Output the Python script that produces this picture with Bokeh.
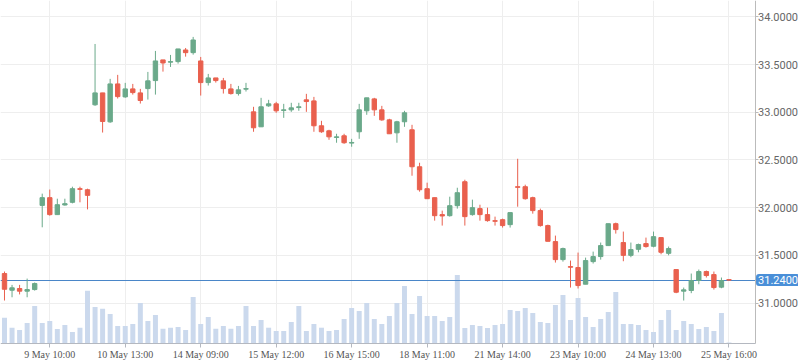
from bokeh.plotting import figure
from bokeh.models import Range1d, FixedTicker, NumeralTickFormatter
from bokeh.embed import file_html
from bokeh.resources import INLINE
from bokeh.core.properties import value

opens = [31.309, 31.134, 31.152, 31.124, 31.141, 32.024, 32.105, 31.927, 32.028, 32.056,
         32.199, 32.188, 33.079, 33.204, 32.900, 33.298, 33.162, 33.246, 33.204, 33.249,
         33.333, 33.550, 33.526, 33.532, 33.654, 33.626, 33.539, 33.312, 33.361, 33.330,
         33.246, 33.197, 33.243, 33.005, 32.848, 33.068, 33.089, 33.020, 33.026, 33.050,
         33.131, 33.120, 32.859, 32.806, 32.736, 32.754, 32.677, 32.796, 33.016, 33.141,
         33.026, 32.921, 32.785, 32.901, 32.817, 32.429, 32.199, 32.105, 31.927, 31.916,
         32.021, 32.272, 31.927, 31.990, 31.927, 31.864, 31.874, 31.822, 32.220, 32.220,
         32.105, 31.969, 31.812, 31.644, 31.455, 31.382, 31.372, 31.197, 31.434, 31.487,
         31.602, 31.832, 31.634, 31.500, 31.563, 31.623, 31.595, 31.686, 31.521, 31.351,
         31.124, 31.131, 31.236, 31.330, 31.298, 31.166, 31.245]
highs = [31.330, 31.190, 31.190, 31.256, 31.215, 32.147, 32.190, 32.094, 32.094, 32.220,
         32.220, 32.199, 33.717, 33.204, 33.351, 33.393, 33.309, 33.298, 33.246, 33.424,
         33.644, 33.550, 33.602, 33.665, 33.675, 33.791, 33.581, 33.403, 33.361, 33.361,
         33.298, 33.277, 33.309, 33.058, 33.152, 33.131, 33.110, 33.089, 33.100, 33.100,
         33.194, 33.162, 32.911, 32.817, 32.775, 32.775, 32.722, 33.089, 33.152, 33.152,
         33.068, 32.932, 32.911, 33.016, 32.869, 32.471, 32.262, 32.105, 31.969, 32.115,
         32.209, 32.293, 32.084, 32.031, 32.000, 31.906, 31.885, 31.948, 32.513, 32.241,
         32.115, 31.990, 31.822, 31.707, 31.581, 31.445, 31.529, 31.476, 31.539, 31.634,
         31.832, 31.843, 31.749, 31.634, 31.623, 31.686, 31.749, 31.686, 31.592, 31.351,
         31.162, 31.309, 31.351, 31.340, 31.330, 31.267, 31.245]
lows = [31.026, 31.060, 31.090, 31.060, 31.130, 31.794, 31.916, 31.927, 32.021, 32.045,
        32.056, 31.982, 33.068, 32.788, 32.890, 33.145, 33.152, 33.186, 33.092, 33.134,
        33.186, 33.427, 33.476, 33.511, 33.584, 33.605, 33.176, 33.281, 33.312, 33.197,
        33.186, 33.176, 33.218, 32.796, 32.848, 33.058, 32.995, 32.942, 33.005, 33.016,
        33.005, 32.796, 32.785, 32.712, 32.681, 32.670, 32.639, 32.722, 32.974, 32.963,
        32.911, 32.775, 32.681, 32.848, 32.335, 32.168, 32.094, 31.864, 31.812, 31.906,
        31.990, 31.812, 31.916, 31.864, 31.853, 31.812, 31.791, 31.791, 32.010, 32.084,
        31.937, 31.801, 31.647, 31.424, 31.434, 31.162, 31.152, 31.197, 31.414, 31.455,
        31.602, 31.728, 31.438, 31.480, 31.532, 31.581, 31.584, 31.511, 31.500, 31.103,
        31.026, 31.103, 31.197, 31.267, 31.141, 31.155, 31.240]
closes = [31.144, 31.159, 31.124, 31.141, 31.204, 32.105, 31.927, 32.031, 32.042, 32.199,
          32.192, 32.129, 33.204, 32.904, 33.298, 33.165, 33.246, 33.207, 33.124, 33.330,
          33.539, 33.518, 33.532, 33.665, 33.626, 33.759, 33.312, 33.361, 33.333, 33.249,
          33.197, 33.236, 33.249, 32.838, 33.058, 33.089, 33.016, 33.026, 33.047, 33.058,
          33.113, 32.859, 32.796, 32.743, 32.743, 32.681, 32.684, 33.026, 33.152, 33.026,
          32.921, 32.775, 32.901, 32.995, 32.429, 32.188, 32.094, 31.916, 31.913, 32.021,
          32.157, 31.906, 32.000, 31.927, 31.864, 31.857, 31.812, 31.948, 32.213, 32.094,
          31.969, 31.812, 31.647, 31.455, 31.571, 31.375, 31.183, 31.445, 31.487, 31.602,
          31.832, 31.770, 31.500, 31.560, 31.613, 31.592, 31.696, 31.532, 31.571, 31.113,
          31.138, 31.236, 31.330, 31.288, 31.162, 31.236, 31.240]
volumes = [253, 153, 130, 200, 370, 200, 220, 140, 180, 110,
           153, 523, 360, 343, 290, 170, 170, 190, 400, 220,
           280, 143, 153, 160, 130, 460, 190, 260, 143, 170,
           143, 170, 370, 170, 230, 153, 120, 120, 210, 370,
           120, 190, 153, 120, 130, 240, 350, 320, 400, 240,
           190, 270, 400, 570, 290, 470, 270, 270, 220, 260,
           680, 150, 180, 170, 150, 180, 190, 330, 320, 350,
           300, 210, 200, 380, 480, 230, 450, 260, 160, 240,
           310, 510, 190, 190, 180, 130, 110, 230, 330, 130,
           220, 190, 140, 160, 120, 300, 5]
tick_idx = [6, 16, 26, 36, 46, 56, 66, 76, 86, 96]
tick_labels = ["9 May 10:00", "10 May 13:00", "14 May 09:00", "15 May 12:00", "16 May 15:00",
               "18 May 11:00", "21 May 14:00", "23 May 10:00", "24 May 13:00", "25 May 16:00"]
price_ticks = [31.0, 31.5, 32.0, 32.5, 33.0, 33.5, 34.0]
last_price = 31.24

UP = "#6aa98a"
DOWN = "#e9604e"
idx = list(range(len(opens)))
colors = [UP if c >= o else DOWN for o, c in zip(opens, closes)]
body_top = [max(o, c) for o, c in zip(opens, closes)]
body_bot = [min(o, c) for o, c in zip(opens, closes)]

# ranges / axis placement (axes drawn inside the frame at fixed locations)
x_start, x_axis_pos, x_end = -0.53, 99.45, 105.21
y_start, y_axis_pos, y_end = 30.3654, 30.580, 34.173
vol_start, vol_end = -205, 3425

p = figure(width=798, height=363, x_range=Range1d(x_start, x_end), y_range=Range1d(y_start, y_end),
           output_backend="svg", toolbar_location=None, y_axis_location="right",
           min_border_left=0, min_border_top=0, min_border_right=0, min_border_bottom=0)
p.extra_y_ranges = {"vol": Range1d(vol_start, vol_end)}
p.outline_line_color = None
p.background_fill_color = "white"
p.border_fill_color = "white"

# volume bars
p.vbar(x=idx, top=volumes, bottom=0, width=0.66, y_range_name="vol",
       fill_color="#cbd9ed", line_color=None)

# last price line
p.hspan(y=[last_price], line_color="#4a86c8", line_width=1)

# candles
p.segment(x0=idx, y0=highs, x1=idx, y1=lows, line_color=colors, line_width=1)
p.vbar(x=idx, top=body_top, bottom=body_bot, width=0.58, fill_color=colors,
       line_color=colors, line_width=1)

# white margins outside the plotting area (axis label zones)
p.quad(left=[x_axis_pos], right=[x_end], bottom=[y_start], top=[y_end],
       fill_color="white", line_color=None)
p.quad(left=[x_start], right=[x_end], bottom=[y_start], top=[y_axis_pos],
       fill_color="white", line_color=None)

# last price tag
p.text(x=[x_axis_pos], y=[last_price], text=["31.2400"], x_offset=1,
       text_font=value("Roboto"), text_font_size="11px", text_color="white",
       text_align="left", text_baseline="middle",
       background_fill_color="#4a8fd8", padding=2, border_radius=3)

ya = p.yaxis[0]
ya.fixed_location = x_axis_pos
ya.bounds = (y_axis_pos, y_end)
ya.ticker = FixedTicker(ticks=price_ticks)
ya.formatter = NumeralTickFormatter(format="0.0000")
ya.major_label_text_font = "Roboto"
ya.major_label_text_font_size = "11px"
ya.major_label_text_color = "#666666"
ya.axis_line_color = "#bbbbbb"
ya.major_tick_line_color = "#bbbbbb"
ya.major_tick_in = 0
ya.major_tick_out = 3
ya.minor_tick_line_color = None
ya.major_label_standoff = 0

xa = p.xaxis[0]
xa.fixed_location = y_axis_pos
xa.bounds = (x_start, x_axis_pos)
xa.ticker = FixedTicker(ticks=tick_idx)
xa.major_label_overrides = {t: lab for t, lab in zip(tick_idx, tick_labels)}
xa.major_label_text_font = "Liberation Serif"
xa.major_label_text_font_size = "10px"
xa.major_label_text_color = "#555555"
xa.axis_line_color = "#b4b8c0"
xa.major_tick_line_color = "#b4b8c0"
xa.major_tick_in = 0
xa.major_tick_out = 4
xa.minor_tick_line_color = None
xa.major_label_standoff = 2

p.xgrid.grid_line_color = "#eeeeee"
p.ygrid.grid_line_color = "#eeeeee"

open("out.html", "w").write(file_html(p, INLINE))
